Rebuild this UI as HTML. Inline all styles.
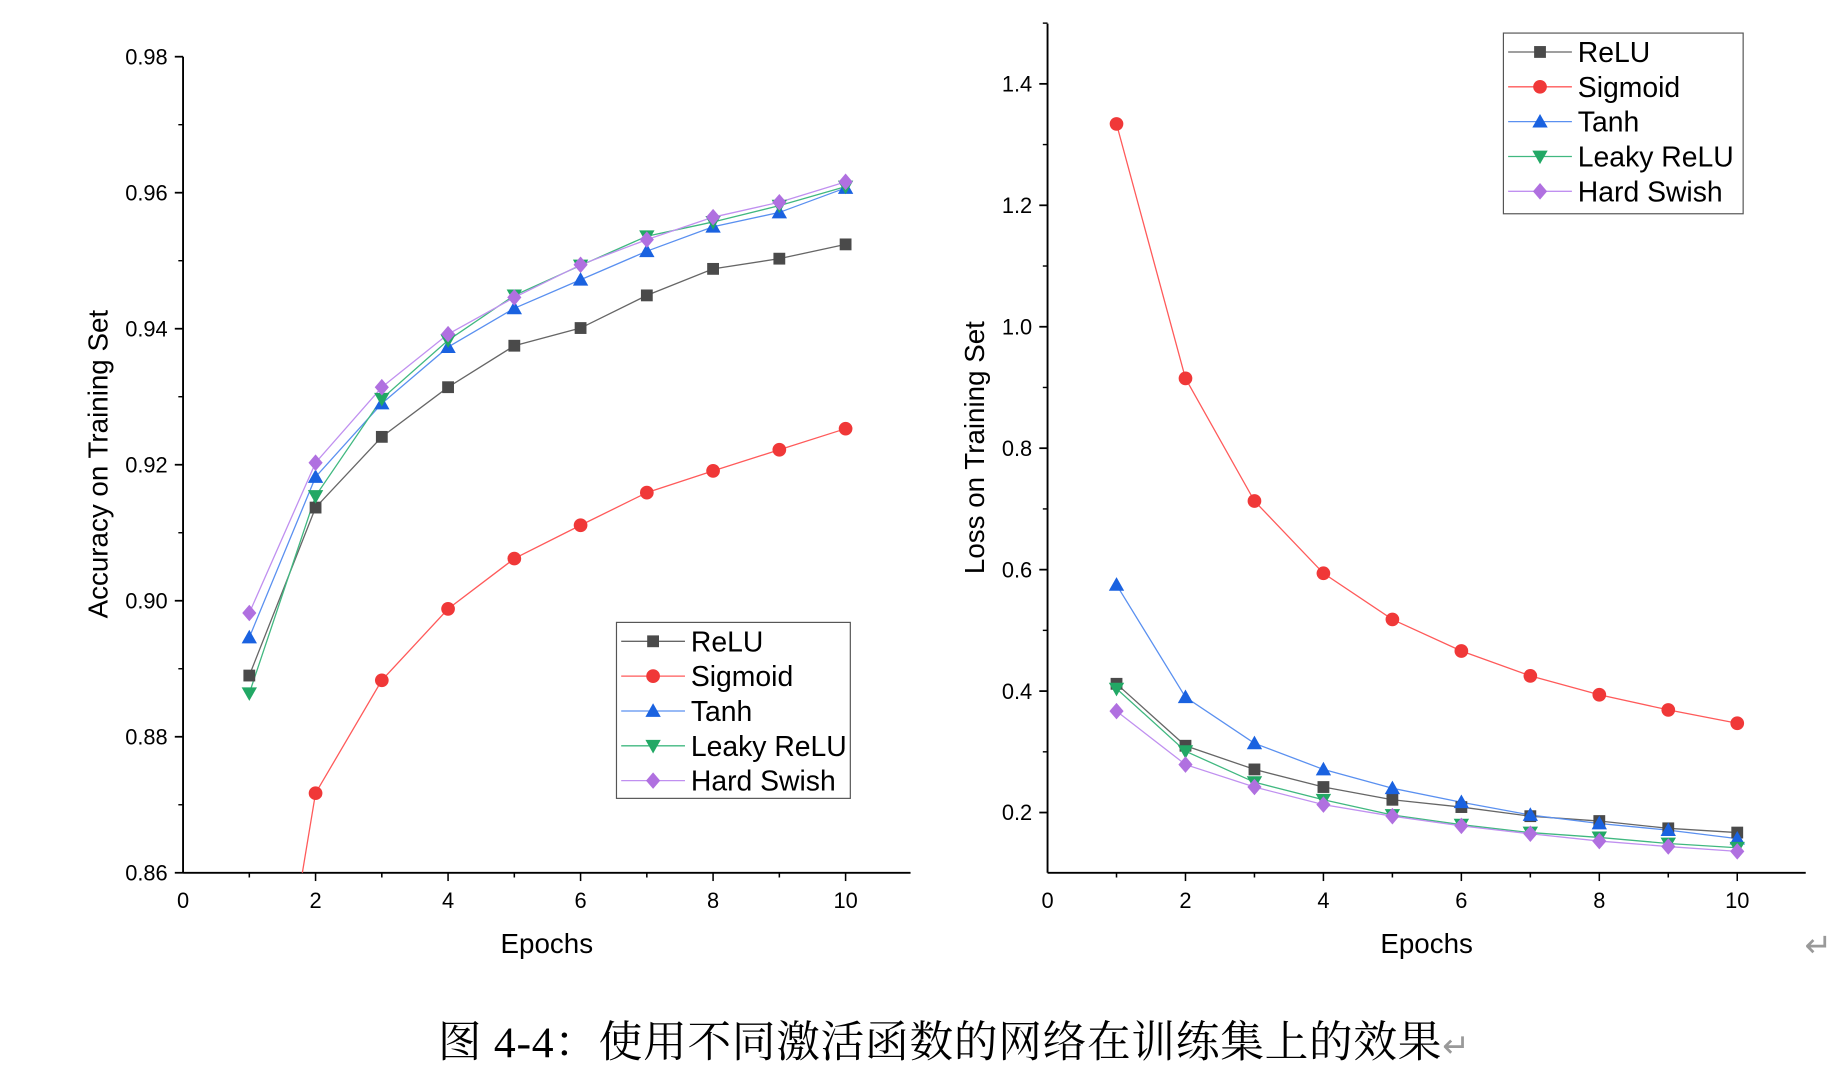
<!DOCTYPE html>
<html><head><meta charset="utf-8"><style>
html,body{margin:0;padding:0;background:#fff;width:1842px;height:1070px;overflow:hidden;}
svg{display:block;overflow:hidden;}
text{font-family:"Liberation Sans",Arial,sans-serif;fill:#000;}
</style></head><body>
<svg id="fig" width="1842" height="1070" viewBox="0 0 1559.7 906" preserveAspectRatio="none" xmlns="http://www.w3.org/2000/svg">
<defs>
<clipPath id="clipL"><rect x="155" y="20" width="620" height="719"/></clipPath>
<clipPath id="clipR"><rect x="887" y="15" width="645" height="724"/></clipPath>
</defs>
<g id="left"></g>
<g id="right"></g>
<text x="1528" y="810" font-size="28" style="fill:#999">↵</text>
<text x="808" y="895" text-anchor="middle" font-size="37" letter-spacing="0.6" style="font-family:'Liberation Serif','Noto Serif CJK SC',serif">图 4-4：使用不同激活函数的网络在训练集上的效果<tspan style="fill:#999" font-size="28">↵</tspan></text>
</svg>
<script>
const epochs=[1,2,3,4,5,6,7,8,9,10];
const seriesNames=["ReLU","Sigmoid","Tanh","Leaky ReLU","Hard Swish"];
const accReLU=[0.8890,0.9137,0.9241,0.9314,0.9375,0.9401,0.9449,0.9488,0.9503,0.9524];
const accSigmoid=[0.813,0.8717,0.8883,0.8988,0.9062,0.9111,0.9159,0.9191,0.9222,0.9253];
const accTanh=[0.8946,0.9182,0.9290,0.9373,0.9430,0.9472,0.9514,0.9550,0.9571,0.9607];
const accLeaky=[0.8864,0.9154,0.9297,0.9383,0.9449,0.9493,0.9536,0.9557,0.9581,0.9609];
const accHard=[0.8982,0.9203,0.9314,0.9392,0.9446,0.9494,0.9531,0.9564,0.9586,0.9616];
const lossReLU=[0.412,0.310,0.271,0.242,0.221,0.209,0.194,0.186,0.174,0.167];
const lossSigmoid=[1.334,0.915,0.713,0.594,0.518,0.466,0.425,0.394,0.369,0.347];
const lossTanh=[0.575,0.390,0.314,0.271,0.240,0.217,0.196,0.182,0.171,0.157];
const lossLeaky=[0.404,0.301,0.250,0.221,0.196,0.180,0.167,0.159,0.149,0.142];
const lossHard=[0.367,0.279,0.242,0.213,0.194,0.178,0.165,0.153,0.144,0.136];
const xTicks=[0,2,4,6,8,10];
const accTicks=["0.86","0.88","0.90","0.92","0.94","0.96","0.98"];
const lossTicks=["0.2","0.4","0.6","0.8","1.0","1.2","1.4"];

const NS="http://www.w3.org/2000/svg";
const markColors=["#4a4a4a","#f03838","#1a62e0","#22a865","#b070e0"];
const lineColors=["#666","#ff5a5a","#5a90f0","#40b880","#c090f0"];
const shapes=["square","circle","up","down","diamond"];
function mk(p,tag,a){const e=document.createElementNS(NS,tag);for(const k in a)e.setAttribute(k,a[k]);p.appendChild(e);return e;}
function marker(g,s,x,y,c,r){
  let e;
  if(s==="square")e=mk(g,"rect",{x:x-r,y:y-r,width:2*r,height:2*r,fill:c});
  else if(s==="circle")e=mk(g,"circle",{cx:x,cy:y,r:r+0.8,fill:c});
  else if(s==="up")e=mk(g,"polygon",{points:`${x},${y-r-1.5} ${x-r-1.5},${y+r} ${x+r+1.5},${y+r}`,fill:c});
  else if(s==="down")e=mk(g,"polygon",{points:`${x},${y+r+1.5} ${x-r-1.5},${y-r} ${x+r+1.5},${y-r}`,fill:c});
  else e=mk(g,"polygon",{points:`${x},${y-r-2} ${x+r+1},${y} ${x},${y+r+2} ${x-r-1},${y}`,fill:c});
  return e;
}
function chart(gid,cfg){
  const g=document.getElementById(gid);
  const X=v=>cfg.x0+(v-0)*(cfg.x1-cfg.x0)/10;
  const Y=v=>cfg.yb+(v-cfg.ymin)*(cfg.yt-cfg.yb)/(cfg.ymax-cfg.ymin);
  const ya=mk(g,"line",{x1:cfg.x0,y1:cfg.axTop,x2:cfg.x0,y2:cfg.axBot,stroke:"#000","stroke-width":1.6});
  
  const xa=mk(g,"line",{x1:cfg.x0,y1:cfg.axBot,x2:cfg.axRight,y2:cfg.axBot,stroke:"#000","stroke-width":1.6});
  
  cfg.yTicks.forEach((t,i)=>{
    const v=parseFloat(t),y=Y(v);
    mk(g,"line",{x1:cfg.x0-7,y1:y,x2:cfg.x0,y2:y,stroke:"#000","stroke-width":1.5});
    const my=Y(v+cfg.ystep/2);
    if(my>cfg.axTop-1)mk(g,"line",{x1:cfg.x0-4,y1:my,x2:cfg.x0,y2:my,stroke:"#000","stroke-width":1.2});
    const tx=mk(g,"text",{x:cfg.x0-13,y:y+6.5,"font-size":18.5,"text-anchor":"end"});tx.textContent=t;
    
  });
  for(let k=1;k<=11;k++){const x=X(k);if(x>cfg.axRight)break;
    mk(g,"line",{x1:x,y1:cfg.axBot,x2:x,y2:cfg.axBot+(k%2===0?7:4),stroke:"#000","stroke-width":1.3});}
  xTicks.forEach(t=>{const tx=mk(g,"text",{x:X(t),y:cfg.axBot+30,"font-size":18.5,"text-anchor":"middle"});tx.textContent=t;
    });
  const xt=mk(g,"text",{x:cfg.xTitleX,y:cfg.axBot+68,"font-size":23.5,"text-anchor":"middle"});xt.textContent="Epochs";
  
  const yt=mk(g,"text",{x:0,y:0,"font-size":23.5,"text-anchor":"middle",transform:`translate(${cfg.yTitleX},${cfg.yTitleY}) rotate(-90)`});yt.textContent=cfg.yTitle;
  
  const pg=mk(g,"g",{"clip-path":cfg.clip});
  cfg.data.forEach((arr,si)=>{
    const pts=epochs.map((e,i)=>X(e)+","+Y(arr[i])).join(" ");
    const pl=mk(pg,"polyline",{points:pts,fill:"none",stroke:lineColors[si],"stroke-width":1.1});
    
    
  });
  cfg.data.forEach((arr,si)=>{
    epochs.forEach((e,i)=>{
      const m=marker(pg,shapes[si],X(e),Y(arr[i]),markColors[si],5);
      
      
    });
  });
  const L=cfg.leg;
  const lg=mk(g,"g",{});
  
  mk(lg,"rect",{x:L.x,y:L.y,width:L.w,height:L.h,fill:"#fff",stroke:"#555","stroke-width":1});
  seriesNames.forEach((n,i)=>{
    const cy=L.y+16+i*29.5;
    const eg=mk(lg,"g",{});
    
    mk(eg,"line",{x1:L.x+4,y1:cy,x2:L.x+58,y2:cy,stroke:lineColors[i],"stroke-width":1.1});
    marker(eg,shapes[i],L.x+31,cy,markColors[i],5);
    const t=mk(eg,"text",{x:L.x+63,y:cy+8.5,"font-size":24});t.textContent=n;
  });
}
chart("left",{x0:155,x1:716,yb:739,yt:48,ymin:0.86,ymax:0.98,ystep:0.02,axTop:48,axBot:739,axRight:771,
  yTicks:accTicks,clip:"url(#clipL)",data:[accReLU,accSigmoid,accTanh,accLeaky,accHard],
  yTitle:"Accuracy on Training Set",yTitleX:91,yTitleY:393,xTitleX:463,
  leg:{x:522,y:527,w:198,h:149}});
chart("right",{x0:887,x1:1471,yb:688,yt:71,ymin:0.2,ymax:1.4,ystep:0.2,axTop:20,axBot:739,axRight:1529,
  yTicks:lossTicks,clip:"url(#clipR)",data:[lossReLU,lossSigmoid,lossTanh,lossLeaky,lossHard],
  yTitle:"Loss on Training Set",yTitleX:833,yTitleY:379,xTitleX:1208,
  leg:{x:1273,y:28,w:203,h:153}});
</script>
</body></html>
